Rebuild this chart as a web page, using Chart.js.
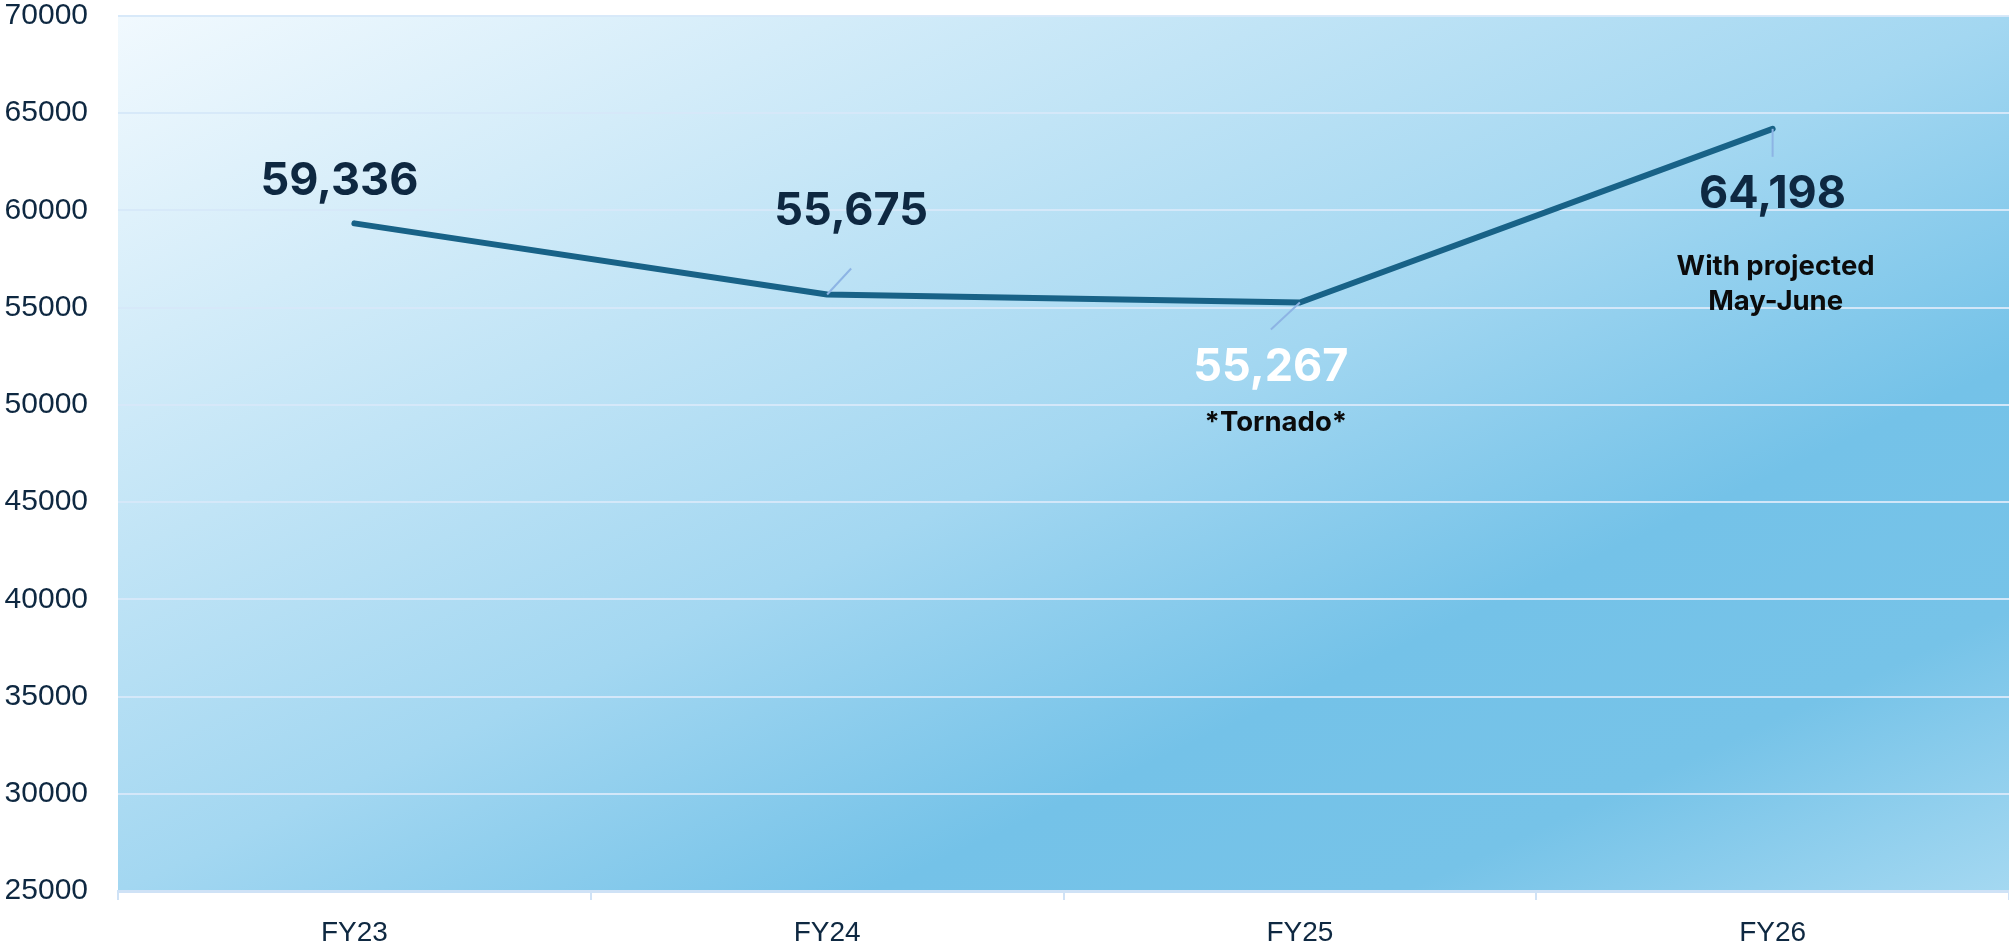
<!DOCTYPE html>
<html>
<head>
<meta charset="utf-8">
<script src="https://cdn.jsdelivr.net/npm/chart.js@4/dist/chart.umd.min.js"></script>
<style>
  html, body { margin: 0; padding: 0; background: #ffffff; }
  #wrap { width: 2009px; height: 947px; }
</style>
</head>
<body>
<div id="wrap"><canvas id="c" width="2009" height="947"></canvas></div>
<script>
// ---- data ----
const categories = ['FY23', 'FY24', 'FY25', 'FY26'];
const values = [59336, 55675, 55267, 64198];
const valueLabels = ['59,336', '55,675', '55,267', '64,198'];
const noteLines = [[], [], ['*Tornado*'], ['With projected', 'May-June']];
const yMin = 25000;
const yMax = 70000;
const yStep = 5000;

// ---- styling of the callouts (offsets from each point, in px) ----
const labelStyle = [
  { dx: -15, dy: -42, color: '#0e2841', leader: null, noteDx: 0, noteDy: [] },
  { dx: 24, dy: -83, color: '#0e2841', leader: [24, -26], noteDx: 0, noteDy: [] },
  { dx: -29, dy: 65, color: '#ffffff', leader: [-29, 27], noteDx: 5, noteDy: [120] },
  { dx: 0, dy: 66, color: '#0e2841', leader: [0, 28], noteDx: 3, noteDy: [138, 173] }
];

const bgPlugin = {
  id: 'bg',
  beforeDraw(chart) {
    const { ctx, chartArea: a } = chart;
    const w = a.right - a.left, h = a.bottom - a.top;
    const k = 2 * w * h / (w * w + h * h);
    const g = ctx.createLinearGradient(a.left, a.top, a.left + k * h, a.top + k * w);
    g.addColorStop(0, '#f1f9fe');
    g.addColorStop(0.5, '#a3d7f1');
    g.addColorStop(0.7, '#74c2e8');
    g.addColorStop(0.84, '#76c3e8');
    g.addColorStop(1, '#a4d8f1');
    ctx.save();
    ctx.fillStyle = g;
    ctx.fillRect(a.left, a.top, w, h);
    ctx.restore();
  }
};

const labelPlugin = {
  id: 'labels',
  afterDatasetsDraw(chart) {
    const { ctx } = chart;
    const meta = chart.getDatasetMeta(0);
    ctx.save();
    meta.data.forEach((pt, i) => {
      const s = labelStyle[i];
      const x = pt.x, y = pt.y;
      if (s.leader) {
        ctx.strokeStyle = '#8db4e4';
        ctx.lineWidth = 2;
        ctx.beginPath();
        ctx.moveTo(x, y);
        ctx.lineTo(x + s.leader[0], y + s.leader[1]);
        ctx.stroke();
      }
      ctx.textAlign = 'center';
      ctx.textBaseline = 'middle';
      ctx.fillStyle = s.color;
      ctx.font = '700 45px Inter, "Noto Sans", sans-serif';
      ctx.fillText(valueLabels[i], x + s.dx, y + s.dy);
      ctx.fillStyle = '#0b0b0b';
      ctx.font = '700 27.5px Inter, "Noto Sans", sans-serif';
      noteLines[i].forEach((t, j) => {
        ctx.fillText(t, x + s.dx + s.noteDx, y + s.noteDy[j]);
      });
    });
    ctx.restore();
  }
};

new Chart(document.getElementById('c'), {
  type: 'line',
  data: {
    labels: categories,
    datasets: [{
      data: values,
      borderColor: '#186287',
      borderWidth: 6,
      borderCapStyle: 'round',
      borderJoinStyle: 'round',
      pointRadius: 0,
      pointHoverRadius: 0,
      tension: 0,
      fill: false
    }]
  },
  options: {
    responsive: false,
    devicePixelRatio: 1,
    animation: false,
    layout: { padding: { top: 16, right: 0, bottom: 0, left: 0 } },
    plugins: { legend: { display: false }, tooltip: { enabled: false } },
    scales: {
      x: {
        offset: true,
        grid: {
          offset: true,
          drawOnChartArea: false,
          drawTicks: true,
          tickLength: 9,
          color: '#cfe2f6',
          lineWidth: 2
        },
        border: { display: true, color: '#cfe2f6', width: 3 },
        ticks: {
          color: '#0e2841',
          font: { family: '"Liberation Sans", Arial, sans-serif', size: 28 },
          padding: 16
        },
        afterFit(scale) { scale.height = 56; scale.paddingLeft = 0; scale.paddingRight = 0; }
      },
      y: {
        min: yMin,
        max: yMax,
        grid: {
          drawTicks: false,
          color: 'rgba(214,232,249,0.95)',
          lineWidth: 2
        },
        border: { display: false },
        ticks: {
          stepSize: yStep,
          color: '#0e2841',
          font: { family: '"Liberation Sans", Arial, sans-serif', size: 30 },
          padding: 30,
          callback: v => String(v)
        },
        afterFit(scale) { scale.width = 118; scale.paddingTop = 0; scale.paddingBottom = 0; }
      }
    }
  },
  plugins: [bgPlugin, labelPlugin]
});
</script>
</body>
</html>
